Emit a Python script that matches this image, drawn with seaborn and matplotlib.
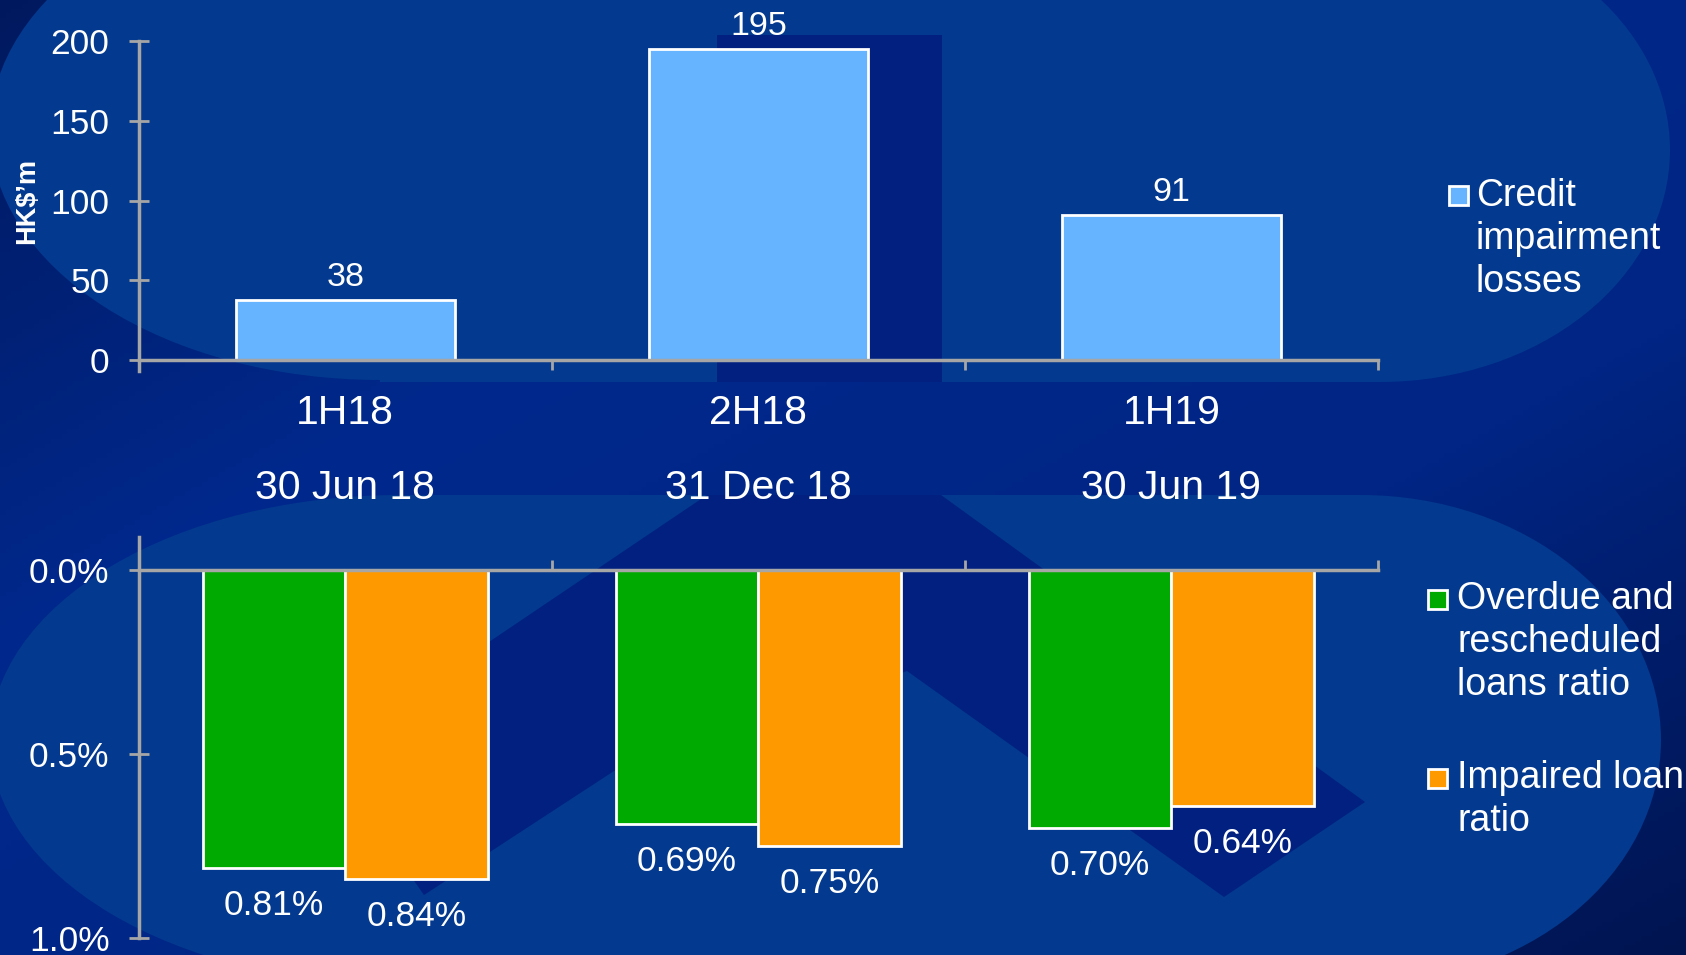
import numpy as np
import pandas as pd
import matplotlib
import matplotlib.pyplot as plt
import seaborn as sns
from matplotlib.colors import LinearSegmentedColormap
from matplotlib.patches import Ellipse, Polygon, Rectangle

matplotlib.use("Agg")
sns.set_theme(style="white")
plt.rcParams["font.family"] = ["Liberation Sans", "DejaVu Sans"]

# Dados
periodos = ["1H18", "2H18", "1H19"]
perdas = [38, 195, 91]

datas = ["30 Jun 18", "31 Dec 18", "30 Jun 19"]
overdue = [0.81, 0.69, 0.70]
impaired = [0.84, 0.75, 0.64]

leg_topo = ["Credit", "impairment", "losses"]
leg_overdue = ["Overdue and", "rescheduled", "loans ratio"]
leg_impaired = ["Impaired loan", "ratio"]

# Cores
AZUL = "#66B3FF"
VERDE = "#00AA00"
LARANJA = "#FF9900"
CINZA = "#A6A6A6"
CLARO = "#03398E"
ESCURO = "#012080"

W, H = 1686, 955
fig = plt.figure(figsize=(W / 100, H / 100), dpi=100)

# Fundo (gradiente + formas do slide) em coordenadas de pixel
bg = fig.add_axes([0, 0, 1, 1], zorder=-10)
bg.set_xlim(0, W)
bg.set_ylim(H, 0)
bg.axis("off")
gx, gy = np.meshgrid(np.linspace(0, 1, 300), np.linspace(0, 1, 200))
grad = (gx + gy) / 2
cmap_bg = LinearSegmentedColormap.from_list(
    "fundo", ["#00195E", "#00288C", "#002584", "#001450"])
bg.imshow(grad, extent=(0, W, H, 0), cmap=cmap_bg, aspect="auto", zorder=0)

# forma clara de cima
bg.add_patch(Ellipse((380, 130), 780, 500, color=CLARO, lw=0, zorder=1))
bg.add_patch(Rectangle((380, -10), 1000, 392, color=CLARO, lw=0, zorder=1))
bg.add_patch(Ellipse((1380, 150), 580, 464, color=CLARO, lw=0, zorder=1))
# forma clara de baixo
bg.add_patch(Ellipse((400, 740), 820, 490, color=CLARO, lw=0, zorder=1))
bg.add_patch(Rectangle((400, 495), 961, 470, color=CLARO, lw=0, zorder=1))
bg.add_patch(Ellipse((1361, 740), 600, 490, color=CLARO, lw=0, zorder=1))
# logo escuro
bg.add_patch(Rectangle((717, 35), 225, 347, color=ESCURO, lw=0, zorder=2))
bg.add_patch(Polygon([(707, 495), (941, 495), (1365, 802), (1224, 897),
                      (907, 671), (614, 771), (424, 895), (330, 760),
                      (486, 644)], closed=True, color=ESCURO, lw=0, zorder=2))

# Gráfico de cima - perdas por imparidade
ax1 = fig.add_axes([138.7 / W, 1 - 370.9 / H, (1378 - 138.7) / W, (370.9 - 40.9) / H])
ax1.set_facecolor("none")
sns.barplot(x=periodos, y=perdas, color=AZUL, saturation=1, width=0.53,
            edgecolor="white", linewidth=2, errorbar=None, ax=ax1)
ax1.set_xlim(-0.5, 2.5)
ax1.set_ylim(-6.7, 200)
ax1.set_yticks([0, 50, 100, 150, 200])
ax1.set_xticks([0.5, 1.5, 2.5], minor=True)
for s in ["top", "right"]:
    ax1.spines[s].set_visible(False)
ax1.spines["bottom"].set_position(("data", 0))
for s in ["bottom", "left"]:
    ax1.spines[s].set_color(CINZA)
    ax1.spines[s].set_linewidth(2.5)
ax1.tick_params(axis="y", direction="inout", length=14, width=2, color=CINZA,
                labelsize=25.5, labelcolor="white", pad=14, left=True)
ax1.tick_params(axis="x", which="major", length=0, labelsize=29.5,
                labelcolor="white", pad=24)
ax1.tick_params(axis="x", which="minor", direction="out", length=7, width=2,
                color=CINZA, bottom=True)
ax1.set_xlabel("")
ax1.set_ylabel("")
ax1.bar_label(ax1.containers[0], fontsize=24.5, color="white", padding=5)

# Gráfico de baixo - rácios
df = pd.DataFrame({
    "data": datas * 2,
    "serie": ["overdue"] * 3 + ["impaired"] * 3,
    "valor": overdue + impaired,
})
ax2 = fig.add_axes([138.7 / W, 0.01728, (1378 - 138.7) / W, 0.4199])
ax2.set_facecolor("none")
sns.barplot(data=df, x="data", y="valor", hue="serie",
            palette=[VERDE, LARANJA], saturation=1, width=0.69,
            edgecolor="white", linewidth=2, errorbar=None, legend=False, ax=ax2)
ax2.set_xlim(-0.5, 2.5)
ax2.set_ylim(1.0, -0.087)
ax2.set_yticks([0, 0.5, 1.0])
ax2.set_yticklabels(["0.0%", "0.5%", "1.0%"])
ax2.xaxis.tick_top()
ax2.set_xticks([0.5, 1.5, 2.5], minor=True)
for s in ["bottom", "right"]:
    ax2.spines[s].set_visible(False)
ax2.spines["top"].set_position(("data", 0))
for s in ["top", "left"]:
    ax2.spines[s].set_color(CINZA)
    ax2.spines[s].set_linewidth(2.5)
ax2.tick_params(axis="y", direction="inout", length=14, width=2, color=CINZA,
                labelsize=25.5, labelcolor="white", pad=14, left=True)
ax2.tick_params(axis="x", which="major", length=0, labelsize=29.5,
                labelcolor="white", pad=45)
ax2.tick_params(axis="x", which="minor", direction="out", length=7, width=2,
                color=CINZA, top=True)
ax2.set_xlabel("")
ax2.set_ylabel("")
for cont in ax2.containers:
    ax2.bar_label(cont, fmt="{:.2f}%", fontsize=25.5, color="white", padding=15)

# Rótulo do eixo
bg.text(27, 201, "HK$\u2019m", rotation=90, fontsize=19.5, fontweight="bold",
        color="white", ha="center", va="center", zorder=5)


# Legendas manuais
def legenda(xm, xt, y0, cor, linhas):
    bg.add_patch(Rectangle((xm - 9.5, y0 - 9.5), 19, 19, facecolor=cor,
                           edgecolor="white", lw=2, zorder=5))
    for i, t in enumerate(linhas):
        bg.text(xt, y0 + 43 * i, t, fontsize=27, color="white",
                ha="left", va="center", zorder=5)


legenda(1458, 1476, 196, AZUL, leg_topo)
legenda(1437, 1457, 599, VERDE, leg_overdue)
legenda(1437, 1457, 778, LARANJA, leg_impaired)

fig.savefig("out.png", dpi=100)
plt.close()
